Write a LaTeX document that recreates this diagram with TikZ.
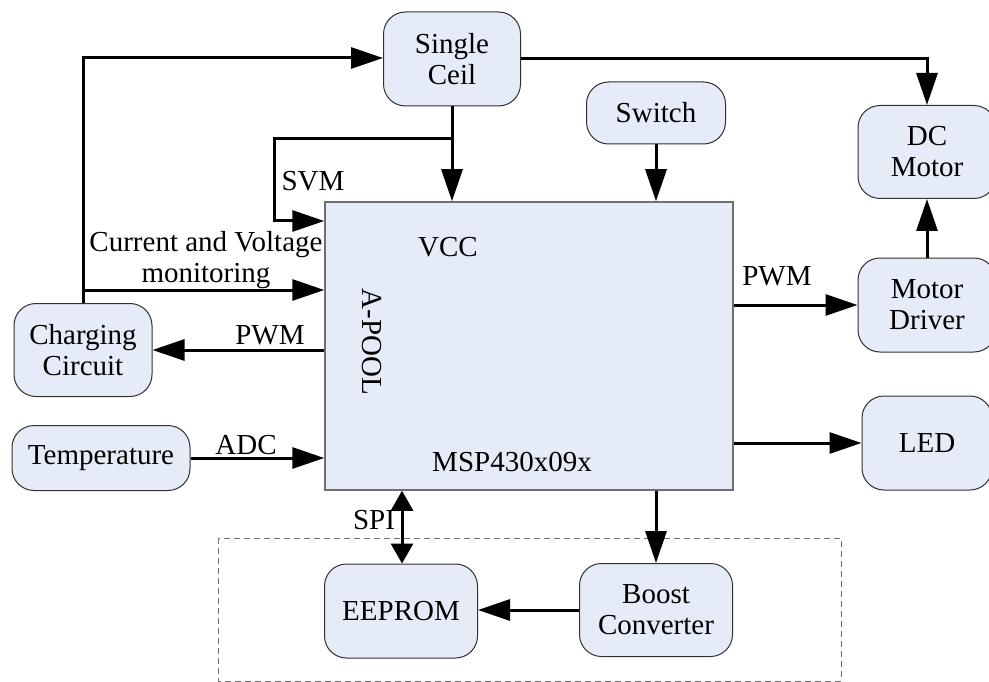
\documentclass[tikz,border=0pt]{standalone}
\usepackage{fontspec}
\setmainfont{Liberation Serif}
\usetikzlibrary{arrows.meta}
\definecolor{boxfill}{HTML}{E6ECF7}
\definecolor{boxline}{HTML}{303030}
\definecolor{mainline}{HTML}{707070}
\begin{document}
\begin{tikzpicture}[x=1pt,y=-1pt,
  every node/.style={font=\fontsize{29}{31}\selectfont, inner sep=0pt},
  blk/.style={draw=boxline, line width=1pt, fill=boxfill, rounded corners=22pt, align=center},
  mainbox/.style={draw=mainline, line width=1.5pt, fill=boxfill},
  conn/.style={line width=3pt, -{Triangle[length=32pt,width=21pt]}},
  biconn/.style={line width=3pt, {Triangle[length=20pt,width=22pt]}-{Triangle[length=20pt,width=22pt]}},
  lbl/.style={}
]
\useasboundingbox (0,0) rectangle (989,682);
% dashed group
\draw[mainline, dashed, dash pattern=on 6pt off 4pt, line width=1pt] (218,538) rectangle (841,681);
% main box
\node[mainbox, minimum width=408pt, minimum height=288pt] (msp) at (529,346) {};
\node (vcc) at (448,247) {VCC};
\node[rotate=-90] (apool) at (372,342) {A-POOL};
\node (mspl) at (512,462) {MSP430x09x};
% blocks
\node[blk, minimum width=137pt, minimum height=94pt] (cell) at (452,59) {Single\\Ceil};
\node[blk, minimum width=139pt, minimum height=62pt] (sw) at (656,113) {Switch};
\node[blk, minimum width=138pt, minimum height=93pt] (dcm) at (927,152) {DC\\Motor};
\node[blk, minimum width=138pt, minimum height=94pt] (drv) at (927,305) {Motor\\Driver};
\node[blk, minimum width=130pt, minimum height=94pt] (led) at (927,443) {LED};
\node[blk, minimum width=138pt, minimum height=93pt] (chg) at (83,350) {Charging\\Circuit};
\node[blk, minimum width=178pt, minimum height=65pt] (temp) at (101,458) {Temperature};
\node[blk, minimum width=153pt, minimum height=94pt] (eep) at (401,611) {EEPROM};
\node[blk, minimum width=153pt, minimum height=93pt] (bst) at (656,610) {Boost\\Converter};
% helper coordinates
\coordinate (top58) at (83,58);
\coordinate (mon) at (83,290);
\coordinate (svmy) at (274,221);
\coordinate (br) at (452,139);
\coordinate (svmc) at (274,139);
\coordinate (y305) at (0,305);
\coordinate (y350) at (0,350);
\coordinate (y443) at (0,443);
\coordinate (x402) at (402,0);
% connectors
\draw[conn] (chg.north) -- (top58) -- (cell.west |- top58);
\draw[conn] (mon) -- (msp.west |- mon);
\draw[conn] (cell.south) -- (msp.north -| cell.south);
\draw[conn] (br) -- (svmc) -- (svmy) -- (msp.west |- svmy);
\draw[conn] (cell.east) -- (dcm.north |- cell.east) -- (dcm.north);
\draw[conn] (sw.south) -- (msp.north -| sw.south);
\draw[conn] (drv.north) -- (dcm.south);
\draw[conn] (msp.east |- y305) -- (drv.west |- y305);
\draw[conn] (msp.west |- y350) -- (chg.east |- y350);
\draw[conn] (temp.east) -- (msp.west |- temp.east);
\draw[conn] (msp.east |- y443) -- (led.west |- y443);
\draw[conn] (msp.south -| bst.north) -- (bst.north);
\draw[biconn] (msp.south -| x402) -- (eep.north -| x402);
\draw[conn] (bst.west) -- (eep.east |- bst.west);
% labels
\node[lbl] (l1) at (206,245) {Current and Voltage};
\node[lbl] (l2) at (206,276) {monitoring};
\node[lbl] (l3) at (313,181) {SVM};
\node[lbl] (l4) at (777,276) {PWM};
\node[lbl] (l5) at (270,335) {PWM};
\node[lbl] (l6) at (246,445) {ADC};
\node[lbl] (l7) at (374,520) {SPI};
\end{tikzpicture}
\end{document}
